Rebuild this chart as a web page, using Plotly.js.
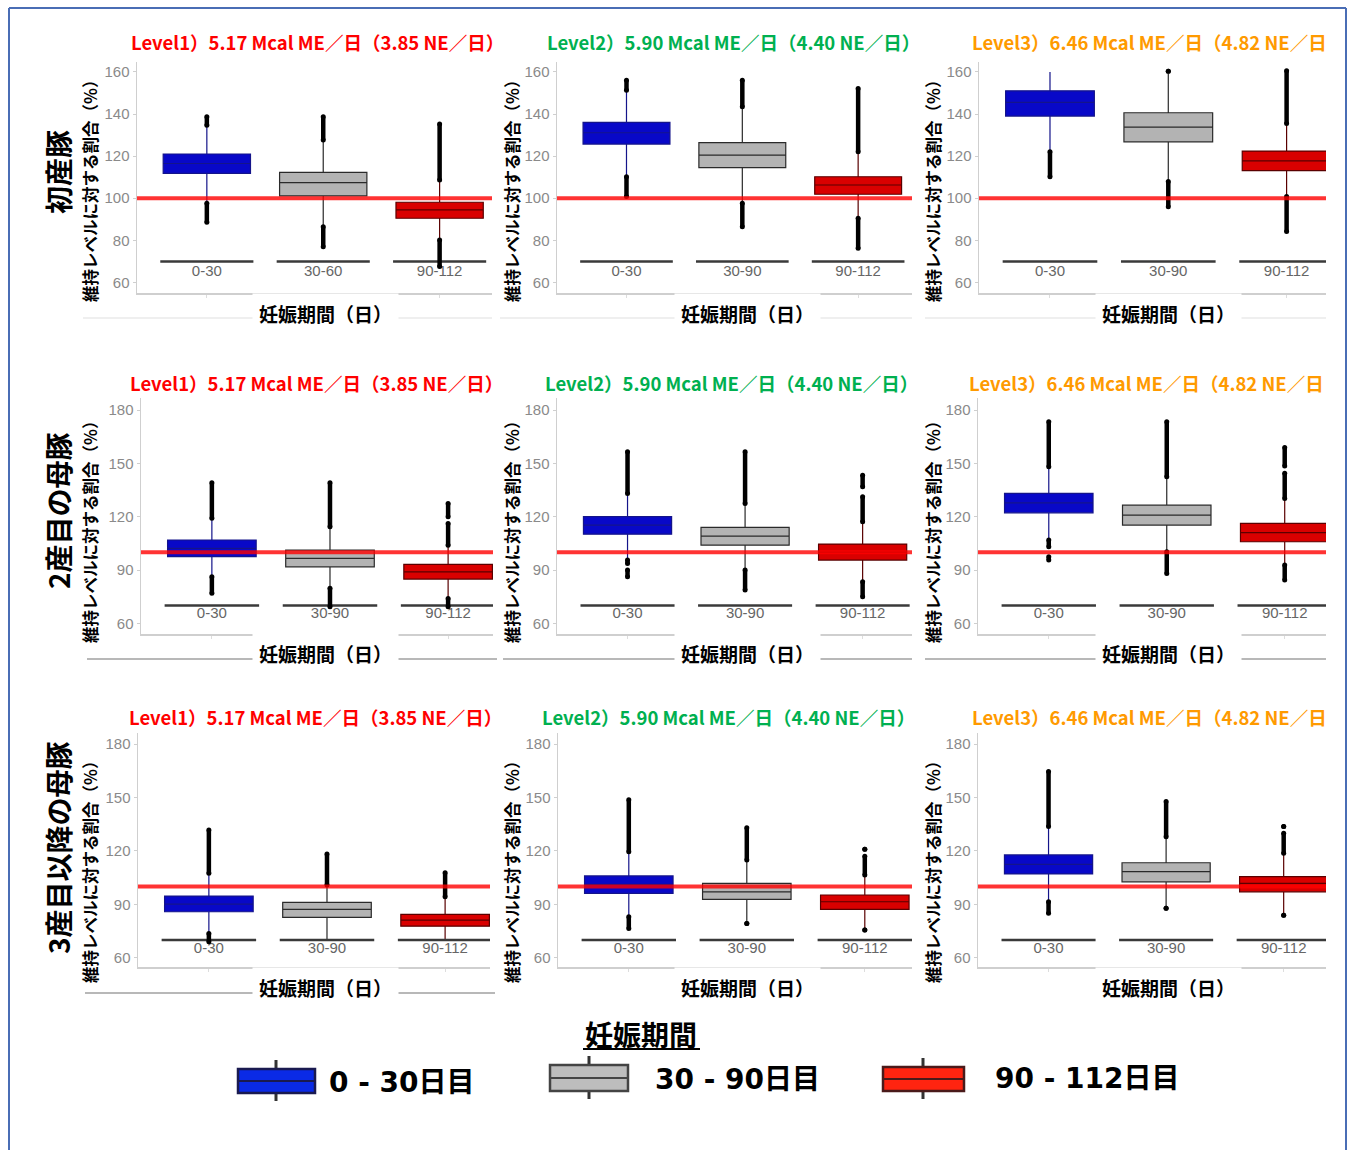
<!DOCTYPE html>
<html><head><meta charset="utf-8">
<script src="https://cdn.plot.ly/plotly-3.0.1.min.js"></script>
<style>html,body{margin:0;padding:0;background:#fff}#chart{width:1348px;height:1150px}</style>
</head><body><div id="chart"></div>
<script>
// ---------------- DATA ----------------
const rowNames = ['初産豚', '2産目の母豚', '3産目以降の母豚'];
const levelTitles = ['Level1）5.17 Mcal ME／日（3.85 NE／日）', 'Level2）5.90 Mcal ME／日（4.40 NE／日）', 'Level3）6.46 Mcal ME／日（4.82 NE／日'];
const periodLabels = ['0-30', '30-90', '90-112'];
const periodLabelsGiltL1 = ['0-30', '30-60', '90-112'];
const legendLabels = ['0 - 30日目', '30 - 90日目', '90 - 112日目'];
const yTitleText = '維持レベルに対する割合（%）';
const xTitleText = '妊娠期間（日）';
const legendTitle = '妊娠期間';
const refLevel = 100;
const baselineValue = 70;
const yTicksRow = [[60, 80, 100, 120, 140, 160], [60, 90, 120, 150, 180], [60, 90, 120, 150, 180]];

// Row 1: 初産豚  (per level: [0-30, 30-xx, 90-112])
const q1_r1  = [[111.8, 101.1, 90.5], [125.7, 114.5, 101.9], [139.0, 126.8, 113.1]];
const med_r1 = [[116.5, 107.4, 94.5], [131.1, 120.5, 106.3], [145.5, 133.8, 117.7]];
const q3_r1  = [[121.0, 112.3, 98.1], [136.0, 126.4, 110.2], [151.0, 140.6, 122.4]];
const lo_r1  = [[98.0, 87.0, 81.0], [110.5, 97.8, 90.7], [122.3, 108.0, 101.0]];
const hi_r1  = [[134.0, 127.0, 108.0], [151.0, 143.0, 122.0], [160.0, 159.0, 135.0]];
const out_r1 = [
  [[0, 134.7, 138.7], [0, 88.6, 97.6], [1, 127.6, 138.7], [1, 77.0, 86.5], [2, 108.7, 135.2], [2, 67.6, 80.2]],
  [[0, 151.3, 156.0], [0, 100.8, 110.2], [1, 143.4, 156.0], [1, 86.5, 97.6], [2, 122.1, 152.1], [2, 76.3, 90.5]],
  [[0, 110.2, 122.1], [1, 160.3, 160.3], [1, 96.0, 107.9], [2, 135.5, 160.5], [2, 84.2, 100.8]]
];
// Row 2: 2産目の母豚
const q1_r2  = [[97.5, 91.8, 84.9], [110.2, 104.0, 95.6], [122.2, 115.3, 105.9]];
const med_r2 = [[102.2, 96.6, 89.0], [115.3, 109.1, 100.1], [127.8, 120.9, 111.0]];
const q3_r2  = [[106.9, 101.2, 93.2], [120.0, 114.0, 104.6], [133.1, 126.5, 116.2]];
const lo_r2  = [[87.0, 80.0, 74.5], [96.0, 90.5, 83.5], [107.5, 100.5, 93.0]];
const hi_r2  = [[119.0, 114.0, 103.5], [133.0, 127.0, 117.0], [148.0, 142.0, 130.0]];
const out_r2 = [
  [[0, 119.1, 139.1], [0, 76.9, 86.2], [1, 114.3, 139.1], [1, 69.3, 79.7], [2, 120.0, 127.5], [2, 104.0, 116.2], [2, 69.3, 74.0]],
  [[0, 133.1, 156.5], [0, 93.7, 95.6], [0, 86.2, 90.0], [1, 127.5, 156.5], [1, 78.7, 90.0], [2, 136.8, 143.4], [2, 117.1, 131.2], [2, 75.0, 83.4]],
  [[0, 148.1, 173.4], [0, 103.1, 106.9], [0, 95.6, 97.5], [1, 142.5, 173.4], [1, 88.1, 100.3], [2, 148.5, 159.0], [2, 130.3, 144.4], [2, 84.4, 92.8]]
];
// Row 3: 3産目以降の母豚
const q1_r3  = [[85.9, 82.7, 77.8], [96.2, 92.8, 87.2], [107.1, 102.7, 97.1]];
const med_r3 = [[90.2, 87.2, 81.2], [101.3, 97.1, 91.5], [112.5, 108.4, 101.8]];
const q3_r3  = [[94.7, 91.2, 84.4], [106.0, 101.8, 95.3], [117.8, 113.4, 105.6]];
const lo_r3  = [[74.0, 70.0, 70.0], [83.5, 80.5, 76.5], [91.8, 88.5, 85.0]];
const hi_r3  = [[107.0, 100.5, 94.0], [119.0, 114.5, 106.0], [133.0, 127.5, 118.0]];
const out_r3 = [
  [[0, 107.5, 131.8], [0, 69.0, 73.7], [1, 100.9, 118.3], [2, 94.3, 107.8]],
  [[0, 119.6, 148.7], [0, 76.5, 83.1], [1, 115.0, 133.1], [1, 79.3, 79.3], [2, 106.5, 117.0], [2, 121.0, 121.0], [2, 75.6, 75.6]],
  [[0, 133.7, 164.6], [0, 85.0, 91.5], [1, 128.0, 147.7], [1, 87.8, 87.8], [2, 118.7, 130.0], [2, 133.7, 133.7], [2, 84.0, 84.0]]
];

// ---------------- LAYOUT GEOMETRY ----------------
const W = 1348, H = 1150;
const PX = v => v / W, PY = v => 1 - v / H;
const CJK = '"Noto Sans CJK JP", "Noto Sans", sans-serif';
const LAT = '"Liberation Sans", Arial, sans-serif';
const LEG = '"DejaVu Sans", "Noto Sans CJK JP", sans-serif';
const rowBounds = [[62, 293], [398, 634], [733, 967]];
const colBounds = [[[137, 492], [557, 912], [979, 1326]], [[141, 493], [557, 912], [978, 1326]], [[138, 490], [558, 912], [978, 1326]]];
const xRanges = [[[-0.6, 2.45], [-0.6, 2.465], [-0.6, 2.333]], [[-0.6, 2.38], [-0.6, 2.42], [-0.6, 2.35]], [[-0.6, 2.38], [-0.6, 2.4], [-0.6, 2.36]]];
const yRanges = [[55, 164.7], [54, 186.8], [54.9, 186.2]];
const levelColors = ['#ff0000', '#00b050', '#ff9a00'];
const boxFill = ['#0808c8', '#b3b3b3', '#d90000'];
const boxLine = ['#14148a', '#2a2a2a', '#5a0000'];
const titlePos = [[[317, 'center'], [733, 'center'], [970, 'left']], [[316, 'center'], [731, 'center'], [967, 'left']], [[315, 'center'], [728, 'center'], [970, 'left']]];
const titleY = [42, 383, 717];
const yTitleX = [90, 512, 933], yTitleY = [187, 528, 868];
const xTitleX = [325, 747, 1168], xTitleY = [314, 653, 988];
const rowLabelY = [172, 511, 848];
const ruleY = [318, 659, 993];
const ruleSegs = [[[83, 492], [500, 912], [925, 1326]], [[87, 497], [503, 912], [925, 1326]], [[85, 495]]];
const ruleColor = ['#efefef', '#b8b8b8', '#b8b8b8'];

const Q1 = [q1_r1, q1_r2, q1_r3], MED = [med_r1, med_r2, med_r3], Q3 = [q3_r1, q3_r2, q3_r3];
const LO = [lo_r1, lo_r2, lo_r3], HI = [hi_r1, hi_r2, hi_r3], OUT = [out_r1, out_r2, out_r3];

const traces = [], layout = {
  width: W, height: H, margin: {l: 0, r: 0, t: 0, b: 0},
  paper_bgcolor: '#fff', plot_bgcolor: '#fff', showlegend: false,
  boxmode: 'overlay', annotations: [], shapes: []
};

for (let r = 0; r < 3; r++) {
  for (let l = 0; l < 3; l++) {
    const n = r * 3 + l + 1;
    const xa = 'x' + (n === 1 ? '' : n), ya = 'y' + (n === 1 ? '' : n);
    const labels = (r === 0 && l === 0) ? periodLabelsGiltL1 : periodLabels;
    const [cl, cr] = colBounds[r][l];
    const [rt, rb] = rowBounds[r];
    const pxPerCat = (cr - cl) / (xRanges[r][l][1] - xRanges[r][l][0]);
    layout['xaxis' + (n === 1 ? '' : n)] = {
      domain: [PX(cl), PX(cr)], anchor: ya, type: 'category', categoryarray: labels,
      range: xRanges[r][l], showline: true, linecolor: '#cfcfcf', linewidth: 1.5,
      ticks: 'outside', ticklen: 3, tickcolor: '#dddddd', showticklabels: false,
      showgrid: false, zeroline: false, fixedrange: true
    };
    layout['yaxis' + (n === 1 ? '' : n)] = {
      domain: [PY(rb), PY(rt)], anchor: xa, range: yRanges[r], tickvals: yTicksRow[r],
      showline: true, linecolor: '#cfcfcf', linewidth: 1.5, ticks: 'outside', ticklen: 3,
      tickcolor: '#cfcfcf', tickfont: {family: LAT, size: 15, color: '#8a8a8a'},
      showgrid: false, zeroline: false, fixedrange: true
    };
    // baseline segments under each category
    traces.push({
      type: 'scatter', mode: 'markers', x: labels, y: labels.map(() => baselineValue),
      xaxis: xa, yaxis: ya,
      marker: {symbol: 'line-ew', size: 0.8 * pxPerCat / 1.4, line: {width: 2.5, color: '#3a3a3a'}},
      hoverinfo: 'skip'
    });
    // category labels
    traces.push({
      type: 'scatter', mode: 'text', x: labels, y: labels.map(() => baselineValue - 5),
      text: labels, textposition: 'middle center', xaxis: xa, yaxis: ya,
      textfont: {family: LAT, size: 15, color: '#666666'}, hoverinfo: 'skip'
    });
    // boxes
    for (let c = 0; c < 3; c++) {
      traces.push({
        type: 'box', x: [labels[c]], q1: [Q1[r][l][c]], median: [MED[r][l][c]], q3: [Q3[r][l][c]],
        lowerfence: [LO[r][l][c]], upperfence: [HI[r][l][c]], width: 0.75, whiskerwidth: 0,
        boxpoints: false, fillcolor: boxFill[c], line: {color: boxLine[c], width: 1.2},
        xaxis: xa, yaxis: ya, hoverinfo: 'skip'
      });
    }
    // outlier clusters
    const ox = [], oy = [];
    OUT[r][l].forEach(([c, a, b]) => { ox.push(labels[c], labels[c], null); oy.push(a, b, null); });
    traces.push({
      type: 'scatter', mode: 'lines+markers', x: ox, y: oy, connectgaps: false,
      line: {color: '#000', width: 4.5}, marker: {color: '#000', size: 5},
      xaxis: xa, yaxis: ya, hoverinfo: 'skip'
    });
    // 100% reference line
    layout.shapes.push({
      type: 'line', xref: xa + ' domain', yref: ya, x0: 0, x1: 1, y0: refLevel, y1: refLevel,
      line: {color: 'rgba(255,0,0,0.8)', width: 4}, layer: 'above'
    });
    // panel title
    const [tx, anc] = titlePos[r][l];
    layout.annotations.push({
      xref: 'paper', yref: 'paper', x: PX(tx), y: PY(titleY[r]), xanchor: anc, yanchor: 'middle',
      text: '<b>' + levelTitles[l] + '</b>', showarrow: false,
      font: {family: CJK, size: 18.5, color: levelColors[l]}
    });
    // y title
    layout.annotations.push({
      xref: 'paper', yref: 'paper', x: PX(yTitleX[l]), y: PY(yTitleY[r]), xanchor: 'center', yanchor: 'middle',
      text: '<b>' + yTitleText + '</b>', textangle: -90, showarrow: false,
      font: {family: CJK, size: 16.5, color: '#000'}
    });
    // x title
    layout.annotations.push({
      xref: 'paper', yref: 'paper', x: PX(xTitleX[l]), y: PY(xTitleY[r]), xanchor: 'center', yanchor: 'middle',
      text: '<b>' + xTitleText + '</b>', showarrow: false, bgcolor: '#fff', borderpad: 6,
      font: {family: CJK, size: 19, color: '#000'}
    });
  }
  // row label
  layout.annotations.push({
    xref: 'paper', yref: 'paper', x: PX(58), y: PY(rowLabelY[r]), xanchor: 'center', yanchor: 'middle',
    text: '<b>' + rowNames[r] + '</b>', textangle: -90, showarrow: false,
    font: {family: CJK, size: 28, color: '#000'}
  });
  // rules behind x titles
  ruleSegs[r].forEach(([a, b]) => layout.shapes.push({
    type: 'line', xref: 'paper', yref: 'paper', x0: PX(a), x1: PX(b), y0: PY(ruleY[r]), y1: PY(ruleY[r]),
    line: {color: ruleColor[r], width: 2}, layer: 'below'
  }));
}

// outer frame
[[9, 8, 1346, 8], [9, 8, 9, 1150], [1346, 8, 1346, 1150]].forEach(([a, b, c, d]) => layout.shapes.push({
  type: 'line', xref: 'paper', yref: 'paper', x0: PX(a), y0: PY(b), x1: PX(c), y1: PY(d),
  line: {color: '#4a6db5', width: 2}
}));

// legend
layout.annotations.push({
  xref: 'paper', yref: 'paper', x: PX(641), y: PY(1034), xanchor: 'center', yanchor: 'middle',
  text: '<b>' + legendTitle + '</b>', showarrow: false, font: {family: CJK, size: 28, color: '#000'}
});
layout.shapes.push({type: 'line', xref: 'paper', yref: 'paper', x0: PX(583), x1: PX(700), y0: PY(1049), y1: PY(1049), line: {color: '#000', width: 2}});
const legIcon = [[238, 315, 1069, 1093, 276], [550, 628, 1065, 1091, 589], [883, 964, 1067, 1091, 923]];
const legFill = ['#0a2ae6', '#bdbdbd', '#ff2410'];
const legLine = ['#1a1a50', '#444444', '#4a1a1a'];
const legText = [[327, 1082], [653, 1079], [993, 1078]];
legIcon.forEach(([x0, x1, y0, y1, wx], i) => {
  layout.shapes.push({type: 'line', xref: 'paper', yref: 'paper', x0: PX(wx), x1: PX(wx), y0: PY(y0 - 9), y1: PY(y1 + 8), line: {color: '#333', width: 3}});
  layout.shapes.push({type: 'rect', xref: 'paper', yref: 'paper', x0: PX(x0), x1: PX(x1), y0: PY(y0), y1: PY(y1), fillcolor: legFill[i], line: {color: legLine[i], width: 2.5}});
  layout.shapes.push({type: 'line', xref: 'paper', yref: 'paper', x0: PX(x0), x1: PX(x1), y0: PY((y0 + y1) / 2), y1: PY((y0 + y1) / 2), line: {color: legLine[i], width: 2}});
  layout.annotations.push({
    xref: 'paper', yref: 'paper', x: PX(legText[i][0]), y: PY(legText[i][1]), xanchor: 'left', yanchor: 'middle',
    text: '<b>' + legendLabels[i] + '</b>', showarrow: false, font: {family: LEG, size: 28, color: '#000'}
  });
});

Plotly.newPlot('chart', traces, layout, {staticPlot: true, displayModeBar: false});
</script></body></html>
